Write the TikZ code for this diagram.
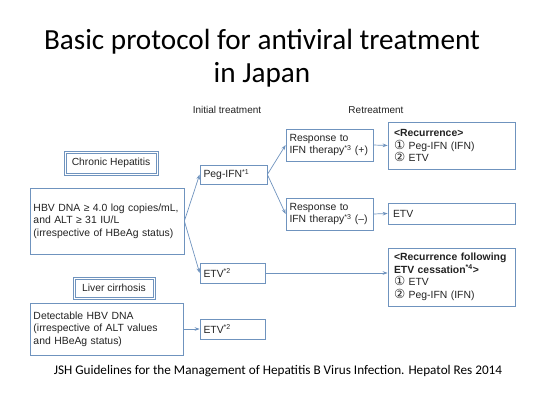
\documentclass[tikz,border=0pt]{standalone}
\usepackage{fontspec}
\setmainfont{Carlito}
\setsansfont{Liberation Sans}
\newfontfamily\symfont{DejaVu Sans}
\usetikzlibrary{arrows.meta}

\definecolor{boxblue}{HTML}{6F93BE}
\definecolor{txtgray}{HTML}{222222}
\newcommand{\circnum}[1]{{\symfont\fontsize{12.5}{12}\selectfont #1}}
\newcommand{\supnote}[1]{\textsuperscript{\fontsize{7}{7}\selectfont #1}}

\tikzset{
	box/.style={draw=boxblue, line width=0.7pt, text=txtgray, inner xsep=3.5pt, inner ysep=3pt,
		font=\sffamily\fontsize{10.4}{12.6}\selectfont, align=left},
	titlebox/.style={draw=boxblue, line width=0.7pt, text=txtgray, inner sep=2pt,
		font=\sffamily\fontsize{10.3}{12}\selectfont},
	inframe/.style={draw=boxblue, line width=0.7pt},
	flow/.style={draw=boxblue, line width=0.7pt, -{Stealth[length=5pt,width=3.6pt]}},
	head/.style={text=txtgray, font=\sffamily\fontsize{10}{11}\selectfont}
}

\begin{document}
\begin{tikzpicture}[x=1pt,y=-1pt]
	\useasboundingbox (0,0) rectangle (550,413);
	
	% title and source
	\node[align=center, font=\fontsize{29.2}{33}\selectfont] (title) at (262,58)
		{Basic protocol for antiviral treatment\\in Japan};
	\node[font=\fontsize{13.2}{15}\selectfont] (source) at (278,371)
		{JSH Guidelines for the Management of Hepatitis B Virus Infection. Hepatol Res 2014};
	
	\node[head] (initial) at (227,110) {Initial treatment};
	\node[head] (retreat) at (376,110) {Retreatment};
	
	% left column
	\node[titlebox, minimum width=94pt, minimum height=24pt] (chronic) at (111,163) {Chronic Hepatitis};
	\draw[inframe] ([shift={(2.5,-2.5)}]chronic.south west) rectangle ([shift={(-2.5,2.5)}]chronic.north east);
	\node[box, text width=147pt, minimum height=66pt] (hbv) at (107,221)
		{HBV DNA ≥ 4.0 log copies/mL,\\and ALT ≥ 31 IU/L\\(irrespective of HBeAg status)};
	\node[titlebox, minimum width=82pt, minimum height=22pt] (cirrh) at (114,288) {Liver cirrhosis};
	\draw[inframe] ([shift={(2.5,-2.5)}]cirrh.south west) rectangle ([shift={(-2.5,2.5)}]cirrh.north east);
	\node[box, text width=146pt, minimum height=52pt] (detect) at (106.5,329)
		{Detectable HBV DNA\\(irrespective of ALT values\\and HBeAg status)};
	
	% initial treatment
	\node[box, text width=60pt, minimum height=19pt] (peg) at (233.5,174.5) {Peg-IFN\supnote{*1}};
	\node[box, text width=58pt, minimum height=20pt] (etva) at (232.5,273) {ETV\supnote{*2}};
	\node[box, text width=58pt, minimum height=20pt] (etvb) at (232.5,329) {ETV\supnote{*2}};
	
	% retreatment
	\node[box, text width=80pt, minimum height=32pt] (respp) at (329.5,145)
		{Response to\\IFN therapy\supnote{*3} (+)};
	\node[box, text width=80pt, minimum height=32pt] (respn) at (329.5,214)
		{Response to\\IFN therapy\supnote{*3} (--)};
	\node[box, inner xsep=6pt, text width=115pt, minimum height=47pt] (recur) at (451.5,145.5)
		{\textbf{<Recurrence>}\\\circnum{①} Peg-IFN (IFN)\\\circnum{②} ETV};
	\node[box, inner xsep=5pt, text width=117pt, minimum height=21pt] (etvc) at (451.5,213.5) {ETV};
	\node[box, inner xsep=6pt, text width=115pt, minimum height=58pt] (recurf) at (451.5,277)
		{\textbf{<Recurrence following}\\\textbf{ETV cessation\supnote{*4}>}\\\circnum{①} ETV\\\circnum{②} Peg-IFN (IFN)};
	
	% arrows
	\draw[flow] (hbv.east) -- (peg.west);
	\draw[flow] (hbv.east) -- (etva.west);
	\draw[flow] (peg.east) -- (respp.west);
	\draw[flow] (peg.east) -- (respn.west);
	\draw[flow] (respp.east) -- (recur.west);
	\draw[flow] (respn.east) -- (etvc.west);
	\draw[flow] (etva.east) -- (etva.east -| recurf.west);
	\draw[flow] (detect.east) -- (etvb.west);
\end{tikzpicture}
\end{document}
